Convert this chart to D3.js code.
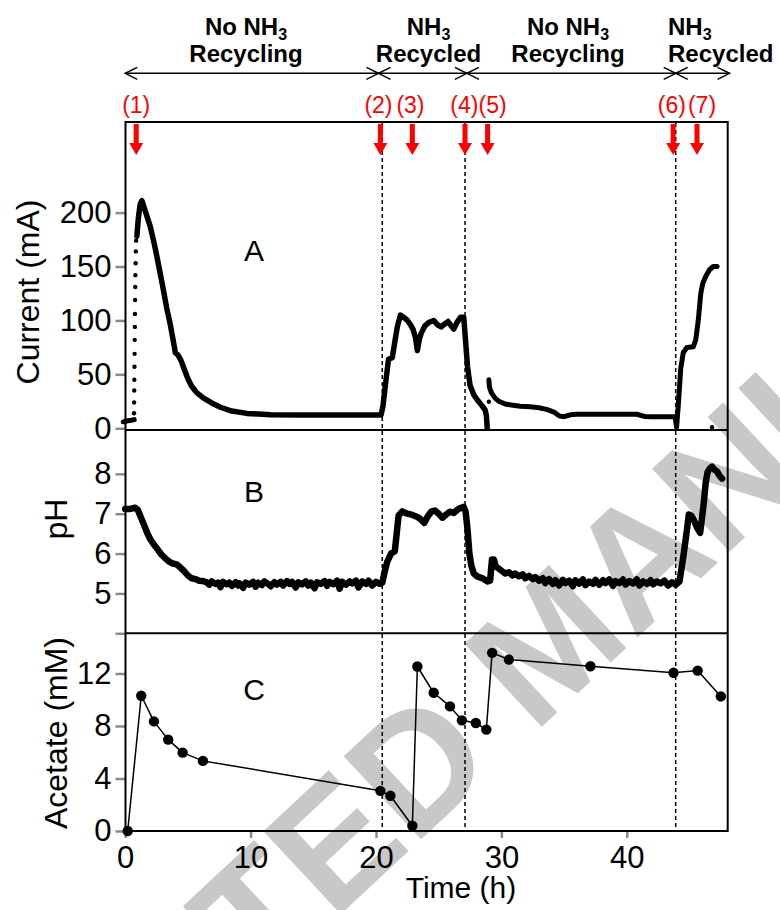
<!DOCTYPE html>
<meta charset="utf-8">
<style>
body { margin: 0; background: #fff; }
svg { font-family: "Liberation Sans", Arial, sans-serif; }
</style>
<svg width="780" height="910"></svg>
<script src="https://d3js.org/d3.v7.min.js"></script>
<script>

// panel A: current (mA) vs time (h)
var currentStart = [[-0.15, 6], [0.2, 7], [0.5, 7.5], [0.72, 8]];
var currentRiseDots = [[0.70, 14], [0.71, 24], [0.72, 35], [0.73, 45], [0.74, 57], [0.75, 69], [0.76, 82],
  [0.77, 94], [0.78, 106], [0.79, 119], [0.80, 131], [0.81, 142], [0.83, 153], [0.85, 164], [0.87, 174]];
var currentMain = [[0.93, 178], [1.05, 195], [1.2, 208], [1.33, 211], [1.5, 205], [1.75, 196], [2.0, 187],
  [2.3, 172], [2.55, 158], [2.8, 143], [3.05, 128], [3.3, 112], [3.6, 96], [3.85, 80], [4.0, 70], [4.2, 68],
  [4.45, 63], [4.7, 55], [5.0, 46], [5.3, 39], [5.7, 33], [6.25, 28], [6.9, 23.5], [7.6, 19.5], [8.5, 16],
  [9.7, 13.8], [11.6, 12.5], [14, 12.2], [17, 12.2], [20.4, 12.2], [20.55, 20], [20.8, 45], [21.0, 64],
  [21.3, 65.5], [21.5, 80], [21.7, 94], [21.95, 105], [22.2, 103], [22.5, 100], [22.75, 96], [22.95, 92],
  [23.15, 84], [23.3, 72], [23.45, 82], [23.6, 88], [23.9, 95], [24.2, 98], [24.6, 100], [24.9, 96],
  [25.2, 94], [25.5, 97], [25.75, 99], [26.0, 95], [26.2, 92], [26.45, 98], [26.75, 103], [27.0, 103],
  [27.15, 80], [27.3, 57], [27.5, 40], [27.8, 31], [28.1, 26], [28.45, 21], [28.7, 17], [28.8, 12],
  [28.85, 4], [28.87, 0]];
var currentTail = [[29.0, 45], [29.05, 38], [29.2, 33], [29.5, 28], [29.8, 25], [30.3, 22.5], [30.8, 21.5],
  [31.5, 20.5], [32.3, 20], [33.0, 19], [33.6, 17.5], [34.2, 15], [34.6, 11.5], [35.0, 10.7], [35.5, 12.5],
  [36, 13], [38, 13], [40.8, 13], [41.4, 11], [42, 10.8], [43, 10.8], [43.85, 10.8], [43.97, 1], [44.1, 20],
  [44.3, 55], [44.5, 70], [44.8, 75], [45.3, 75.5], [45.5, 82], [45.7, 100], [45.9, 125], [46.05, 134],
  [46.3, 141], [46.6, 147], [46.9, 150], [47.2, 150]];
var currentStray = [[29.0, 24.6], [46.8, 1]];

// panel B: pH vs time (h)
var phData = [[0, 7.12], [0.4, 7.12], [0.8, 7.15], [1.0, 7.1], [1.2, 6.95], [1.5, 6.72], [1.75, 6.52],
  [2.0, 6.36], [2.3, 6.22], [2.6, 6.1], [2.9, 5.97], [3.2, 5.88], [3.5, 5.8], [3.8, 5.75], [4.1, 5.73],
  [4.4, 5.65], [4.7, 5.56], [5.0, 5.45], [5.3, 5.38], [5.6, 5.36], [5.9, 5.32], [6.2, 5.31], [6.5, 5.28],
  [6.7, 5.22], [6.9, 5.3], [7.2, 5.24], [7.4, 5.27], [7.6, 5.16], [7.8, 5.29], [8.1, 5.23], [8.3, 5.27],
  [8.5, 5.19], [8.8, 5.28], [9.0, 5.2], [9.1, 5.26], [9.4, 5.14], [9.6, 5.27], [9.9, 5.22], [10.2, 5.29],
  [10.4, 5.17], [10.6, 5.27], [10.9, 5.21], [11.1, 5.3], [11.4, 5.24], [11.6, 5.18], [11.9, 5.28], [12.1, 5.22],
  [12.4, 5.29], [12.6, 5.2], [12.9, 5.31], [13.1, 5.24], [13.3, 5.29], [13.6, 5.15], [13.8, 5.28], [14.1, 5.23],
  [14.4, 5.3], [14.6, 5.2], [14.8, 5.27], [15.1, 5.13], [15.3, 5.28], [15.6, 5.24], [15.9, 5.31], [16.1, 5.19],
  [16.3, 5.29], [16.6, 5.23], [16.9, 5.32], [17.1, 5.12], [17.3, 5.29], [17.6, 5.22], [17.9, 5.3], [18.1, 5.25],
  [18.4, 5.32], [18.6, 5.15], [18.9, 5.3], [19.2, 5.24], [19.4, 5.32], [19.7, 5.2], [20.0, 5.29], [20.3, 5.24],
  [20.5, 5.27], [20.7, 5.55], [20.9, 5.8], [21.2, 6.0], [21.5, 6.06], [21.65, 6.5], [21.8, 6.95], [22.1, 7.06],
  [22.5, 7.0], [22.9, 6.97], [23.3, 6.92], [23.6, 6.85], [23.85, 6.77], [24.1, 6.92], [24.4, 7.05], [24.7, 7.08],
  [25.0, 7.0], [25.3, 6.9], [25.6, 6.98], [25.9, 7.05], [26.2, 7.02], [26.5, 7.1], [26.8, 7.15], [27.0, 7.17],
  [27.15, 7.05], [27.3, 6.6], [27.45, 6.0], [27.6, 5.7], [27.8, 5.5], [28.1, 5.42], [28.5, 5.38], [28.9, 5.3],
  [29.1, 5.32], [29.25, 5.85], [29.4, 5.85], [29.55, 5.68], [29.8, 5.62], [30.1, 5.55], [30.3, 5.5], [30.6, 5.53],
  [30.9, 5.45], [31.1, 5.5], [31.4, 5.43], [31.7, 5.48], [31.9, 5.38], [32.2, 5.44], [32.5, 5.36], [32.7, 5.41],
  [33.0, 5.32], [33.3, 5.38], [33.5, 5.26], [33.8, 5.36], [34.1, 5.24], [34.3, 5.33], [34.6, 5.2], [34.9, 5.34],
  [35.1, 5.26], [35.4, 5.32], [35.7, 5.18], [35.9, 5.33], [36.2, 5.25], [36.5, 5.35], [36.7, 5.21], [37.0, 5.3],
  [37.3, 5.24], [37.5, 5.34], [37.8, 5.22], [38.1, 5.33], [38.3, 5.26], [38.6, 5.35], [38.9, 5.19], [39.1, 5.31],
  [39.4, 5.26], [39.7, 5.35], [39.9, 5.22], [40.2, 5.31], [40.5, 5.25], [40.8, 5.35], [41.0, 5.2], [41.3, 5.3],
  [41.6, 5.24], [41.9, 5.33], [42.1, 5.23], [42.4, 5.3], [42.7, 5.25], [43.0, 5.32], [43.3, 5.2], [43.6, 5.28],
  [43.9, 5.22], [44.2, 5.3], [44.5, 5.9], [44.8, 6.6], [44.95, 6.98], [45.15, 6.95], [45.35, 6.85], [45.6, 6.65],
  [45.85, 6.52], [46.0, 6.9], [46.15, 7.3], [46.3, 7.8], [46.45, 8.05], [46.65, 8.15], [46.8, 8.18], [47.0, 8.1],
  [47.2, 8.06], [47.4, 7.95], [47.6, 7.88]];

// panel C: acetate samples
var acetateTime = [0.2, 1.28, 2.29, 3.43, 4.58, 6.2, 20.35, 21.15, 22.9, 23.3, 24.6, 25.9, 26.85, 27.96,
  28.8, 29.26, 30.6, 37.1, 43.73, 45.65, 47.5];
var acetateConc = [0, 10.3, 8.35, 6.96, 5.97, 5.34, 3.06, 2.68, 0.4, 12.53, 10.53, 9.49, 8.43, 8.23,
  7.72, 13.57, 13.06, 12.55, 12.05, 12.22, 10.25];

// events and phases
var eventLabels = ["(1)", "(2)", "(3)", "(4)", "(5)", "(6)", "(7)"];
var eventTime = [0.88, 20.35, 22.9, 27.1, 28.9, 43.7, 45.6];
var eventLabelTime = [0.88, 20.2, 22.75, 27.05, 29.3, 43.6, 46.0];
var switchTime = [20.5, 27.1, 43.9];
var phaseBounds = [0, 20.2, 27.25, 43.9, 48.2];
var phaseLine1 = ["No NH", "NH", "No NH", "NH"];
var phaseLine2 = ["Recycling", "Recycled", "Recycling", "Recycled"];

var tickA = [0, 50, 100, 150, 200],
    tickB = [4, 5, 6, 7, 8],
    tickC = [0, 4, 8, 12],
    tickX = [0, 10, 20, 30, 40];

var svg = d3.select("svg");

var x = d3.scaleLinear().domain([0, 48]).range([125.2, 727.1]),
    yA = d3.scaleLinear().domain([-1.6, 284]).range([430, 122]),
    yB = d3.scaleLinear().domain([4, 9.1]).range([633.3, 430]),
    yC = d3.scaleLinear().domain([0, 15.06]).range([831, 633.3]);

// watermark behind everything
svg.append("text")
    .attr("transform", "translate(548,642) rotate(-43)")
    .attr("text-anchor", "middle")
    .attr("dy", "0.35em")
    .style("font-size", "165px")
    .style("font-weight", "bold")
    .attr("fill", "#c8c8c8")
    .text("ACCEPTED MANUSCRIPT");

// axes
function styleAxis(g, size) {
  g.attr("font-family", null).attr("font-size", null);
  g.select(".domain").remove();
  g.selectAll(".tick line").attr("stroke", "#8a8a8a").attr("stroke-width", 2.5);
  g.selectAll(".tick text").attr("fill", "#000").style("font-size", size);
}

function leftAxis(scale, ticks, fmt) {
  var g = svg.append("g")
      .attr("transform", "translate(125.5,0)")
      .call(d3.axisLeft(scale).tickValues(ticks).tickSize(10).tickPadding(4).tickFormat(fmt));
  styleAxis(g, "31px");
}

leftAxis(yA, tickA, d3.format("d"));
leftAxis(yB, tickB, function(d) { return d === 4 ? "" : d; });
leftAxis(yC, tickC, d3.format("d"));

var gx = svg.append("g")
    .attr("transform", "translate(0,831)")
    .call(d3.axisBottom(x).tickValues(tickX).tickSize(7).tickPadding(8).tickFormat(d3.format("d")));
styleAxis(gx, "31px");

// frame and panel separators
var frame = svg.append("g").attr("stroke", "#000").attr("stroke-width", 2).attr("fill", "none");
frame.append("path").attr("d", "M125.5,122H727.7V831H125.5Z");
[430, 633.3].forEach(function(y) {
  frame.append("line").attr("x1", 125.5).attr("x2", 727.7).attr("y1", y).attr("y2", y);
});

// switch lines
svg.selectAll(".switch")
  .data(switchTime)
  .enter().append("line")
    .attr("x1", function(d) { return x(d); })
    .attr("x2", function(d) { return x(d); })
    .attr("y1", 123).attr("y2", 831)
    .attr("stroke", "#000")
    .attr("stroke-width", 1.5)
    .attr("stroke-dasharray", "4,3");

// traces
function trace(data, y, w) {
  svg.append("path")
      .datum(data)
      .attr("fill", "none")
      .attr("stroke", "#000")
      .attr("stroke-width", w)
      .attr("stroke-linejoin", "round")
      .attr("stroke-linecap", "round")
      .attr("d", d3.line().x(function(d) { return x(d[0]); }).y(function(d) { return y(d[1]); }));
}

trace(currentStart, yA, 5);
trace(currentMain, yA, 5.5);
trace(currentTail, yA, 5);
svg.selectAll(".rise")
  .data(currentRiseDots.concat(currentStray))
  .enter().append("circle")
    .attr("cx", function(d) { return x(d[0]); })
    .attr("cy", function(d) { return yA(d[1]); })
    .attr("r", 2.2);

trace(phData, yB, 6.5);

var acetate = acetateTime.map(function(t, i) { return [t, acetateConc[i]]; });
trace(acetate, yC, 1.5);
svg.selectAll(".acetate")
  .data(acetate)
  .enter().append("circle")
    .attr("cx", function(d) { return x(d[0]); })
    .attr("cy", function(d) { return yC(d[1]); })
    .attr("r", 5.2);

// panel letters and titles
[["A", 261], ["B", 502], ["C", 700]].forEach(function(p) {
  svg.append("text").attr("x", 254).attr("y", p[1]).attr("text-anchor", "middle")
      .style("font-size", "30px").text(p[0]);
});

function yTitle(label, bx, cy) {
  svg.append("text")
      .attr("transform", "translate(" + bx + "," + cy + ") rotate(-90)")
      .attr("text-anchor", "middle")
      .style("font-size", "32px")
      .text(label);
}
yTitle("Current (mA)", 39, 292);
yTitle("pH", 67, 519);
yTitle("Acetate (mM)", 67, 733);

svg.append("text").attr("x", 461).attr("y", 898).attr("text-anchor", "middle")
    .style("font-size", "30px").text("Time (h)");

// red event arrows
eventTime.forEach(function(t, i) {
  var cx = x(t);
  svg.append("rect").attr("x", cx - 2.5).attr("y", 124).attr("width", 5).attr("height", 20).attr("fill", "#f00");
  svg.append("path").attr("d", "M" + (cx - 7) + ",143H" + (cx + 7) + "L" + cx + ",155Z").attr("fill", "#f00");
  svg.append("text").attr("x", x(eventLabelTime[i])).attr("y", 113).attr("text-anchor", "middle")
      .attr("fill", "#f00").style("font-size", "23px").text(eventLabels[i]);
});

// phase brackets
var brackets = svg.append("g").attr("stroke", "#000").attr("stroke-width", 1.5).attr("fill", "none");
brackets.append("line")
    .attr("x1", x(phaseBounds[0])).attr("x2", x(phaseBounds[4]))
    .attr("y1", 73.3).attr("y2", 73.3);
for (var i = 0; i < 4; i++) {
  var a = x(phaseBounds[i]), b = x(phaseBounds[i + 1]);
  brackets.append("path").attr("d", "M" + (a + 12) + ",67.3L" + a + ",73.3L" + (a + 12) + ",79.3");
  brackets.append("path").attr("d", "M" + (b - 12) + ",67.3L" + b + ",73.3L" + (b - 12) + ",79.3");
}

var phaseX = [246, 428.5, 568, 668],
    phaseAnchor = ["middle", "middle", "middle", "start"];
phaseLine1.forEach(function(s, i) {
  var t1 = svg.append("text").attr("x", phaseX[i]).attr("y", 35).attr("text-anchor", phaseAnchor[i])
      .style("font-size", "24px").style("font-weight", "bold");
  t1.append("tspan").text(s);
  t1.append("tspan").attr("dy", 5).style("font-size", "16px").text("3");
  svg.append("text").attr("x", phaseX[i]).attr("y", 62).attr("text-anchor", phaseAnchor[i])
      .style("font-size", "24px").style("font-weight", "bold").text(phaseLine2[i]);
});

</script>
